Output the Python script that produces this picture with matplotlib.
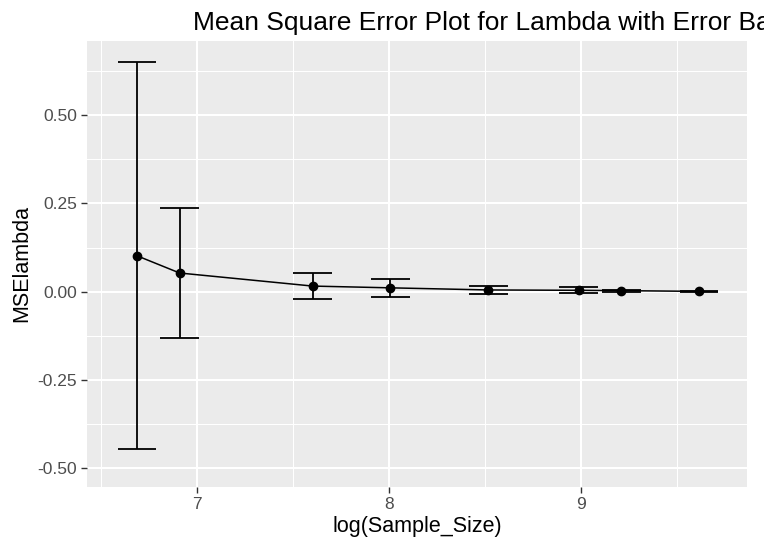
import numpy as np
import matplotlib
matplotlib.use('Agg')
import matplotlib.pyplot as plt
from matplotlib.ticker import FixedLocator

plt.rcParams['font.family'] = ['Liberation Sans', 'DejaVu Sans']

# sample sizes and MSE of lambda with sd (error bars)
sample_size = [800, 1000, 2000, 3000, 5000, 8000, 10000, 15000]
mse_lambda = [0.102, 0.053, 0.016, 0.011, 0.005, 0.004, 0.003, 0.001]
mse_sd = [0.548, 0.185, 0.037, 0.026, 0.011, 0.009, 0.003, 0.002]

x = np.log(np.array(sample_size))
y = np.array(mse_lambda)
sd = np.array(mse_sd)

fig = plt.figure(figsize=(7.64, 5.48), dpi=100)
ax = fig.add_axes([0.1135, 0.1113, 0.8642, 0.8139])
ax.set_facecolor('#EBEBEB')
for s in ax.spines.values():
    s.set_visible(False)

ax.set_xlim(6.4235, 9.865)
ax.set_ylim(-0.553, 0.710)

ax.xaxis.set_major_locator(FixedLocator([7, 8, 9]))
ax.xaxis.set_minor_locator(FixedLocator([6.5, 7.5, 8.5, 9.5]))
ax.yaxis.set_major_locator(FixedLocator([-0.5, -0.25, 0, 0.25, 0.5]))
ax.yaxis.set_minor_locator(FixedLocator([-0.375, -0.125, 0.125, 0.375, 0.625]))
ax.set_yticklabels(['-0.50', '-0.25', '0.00', '0.25', '0.50'])
ax.set_xticklabels(['7', '8', '9'])

ax.grid(which='major', color='white', linewidth=1.5)
ax.grid(which='minor', color='white', linewidth=0.75)
ax.set_axisbelow(True)
ax.tick_params(which='major', length=4, width=1, color='#333333',
               labelcolor='#4D4D4D', labelsize=12.5, pad=3)
ax.tick_params(which='minor', length=0)

# error bars with caps 0.2 wide (data units)
ax.vlines(x, y - sd, y + sd, color='black', linewidth=1.3, zorder=3)
ax.hlines(y - sd, x - 0.1, x + 0.1, color='black', linewidth=1.3, zorder=3)
ax.hlines(y + sd, x - 0.1, x + 0.1, color='black', linewidth=1.3, zorder=3)
ax.plot(x, y, color='black', linewidth=1.1, zorder=3)
ax.plot(x, y, 'o', color='black', markersize=6, zorder=4)

ax.set_xlabel('log(Sample_Size)', fontsize=15.5, labelpad=3)
ax.set_ylabel('MSElambda', fontsize=15.5, labelpad=4)

fig.text(0.2526, 0.958, 'Mean Square Error Plot for Lambda with Error Bars',
         fontsize=19, ha='left', va='center')

fig.savefig('out.png', dpi=100)
